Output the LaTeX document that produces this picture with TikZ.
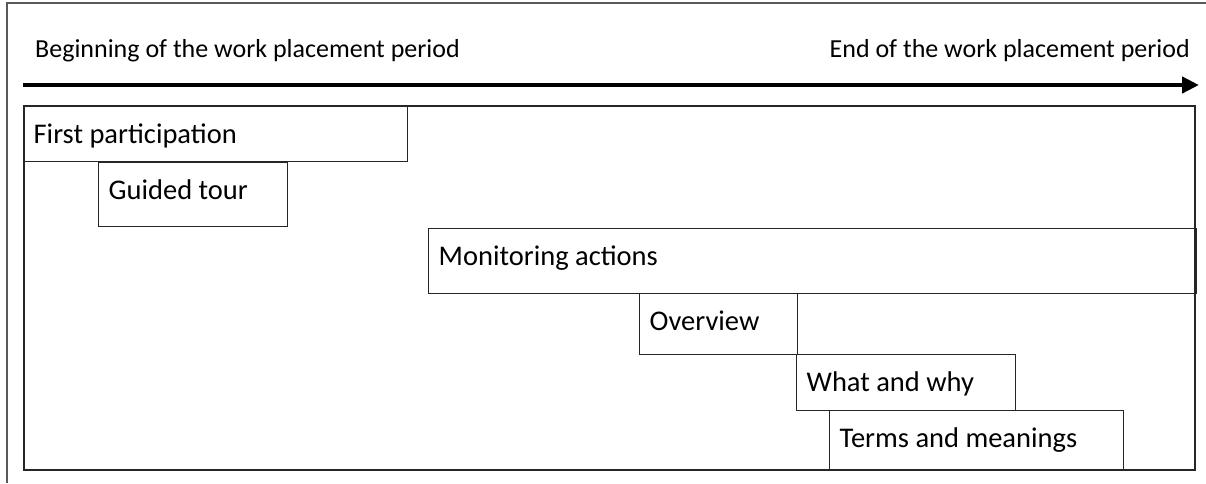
\documentclass[tikz,border=0pt]{standalone}
\usepackage{fontspec}
\setmainfont{Carlito}
\usetikzlibrary{arrows.meta}
\begin{document}
\begin{tikzpicture}[x=1pt,y=-1pt,
  phase/.style={draw=black!85, line width=1.3pt, inner xsep=10pt, inner ysep=0pt,
    anchor=north west, align=flush left, font=\fontsize{28.5}{33}\selectfont},
  heading/.style={inner sep=0pt, font=\fontsize{26}{30}\selectfont}]
\useasboundingbox (0,0) rectangle (1206,483);
% page frame (left and top edges)
\draw[draw=black!65, line width=1.2pt] (7,483) -- (7,3) -- (1206,3);
% time axis
\node[heading, anchor=base west] (start) at (35,57) {Beginning of the work placement period};
\node[heading, anchor=base east] (finish) at (1190,57) {End of the work placement period};
\coordinate (axisL) at (23,85);
\coordinate (axisR) at (1199,85);
\draw[line width=4.5pt, -{Triangle[length=17pt,width=16pt]}] (axisL) -- (axisR);
% main frame
\node[draw=black!85, line width=2pt, minimum width=1171pt, minimum height=364pt,
  inner sep=0pt, anchor=north west] (frame) at (23,105) {};
% phases: x, y of top-left corner, width, height
\newcommand{\phasebox}[6]{%
  \node[phase, text width=#4pt-20pt, text height=36.5pt, text depth=#5pt-36.5pt] (#1) at (#2,#3) {#6};}
\phasebox{first}{23}{106}{384}{55}{First participation}
\phasebox{guided}{98}{162}{189}{64}{Guided tour}
\phasebox{monitor}{428}{228}{768}{65}{Monitoring actions}
\phasebox{overview}{639}{293}{158}{61}{Overview}
\phasebox{whatwhy}{796}{354}{219}{56}{What and why}
\phasebox{terms}{829}{410}{294}{59}{Terms and meanings}
\end{tikzpicture}
\end{document}
